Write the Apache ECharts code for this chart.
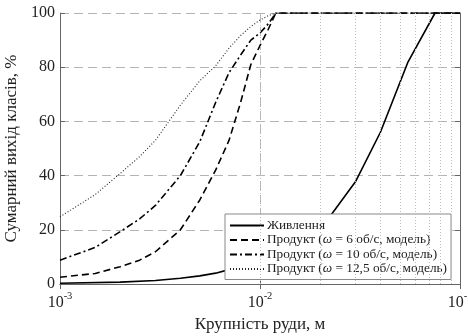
<!DOCTYPE html>
<html>
<head>
<meta charset="utf-8">
<script src="https://cdn.jsdelivr.net/npm/echarts@6/dist/echarts.min.js"></script>
<style>
html,body{margin:0;padding:0;background:#fff;}
#c{width:468px;height:336px;}
</style>
</head>
<body>
<div id="c"></div>
<script>
// ---- data ----
const feedX   = [0.001,0.002,0.003,0.004,0.005,0.006,0.007,0.01,0.015,0.02,0.03,0.04,0.055,0.075,0.1];
const feedY   = [0.3,0.7,1.3,2.1,3.0,4.0,5.3,9,14,20,37.7,56,82,100,100];

const prodX   = [0.001,0.0015,0.002,0.0025,0.003,0.004,0.005,0.006,0.007,0.008,0.009,0.010,0.011,0.012,0.1];
const prod6Y  = [2.5,3.9,6.4,8.8,11.9,20,31,42,53,67,81,88,94,100,100];
const prod10Y = [8.8,13.5,19.3,24,29,40,52.5,67,78,84.5,90,92.6,96,100,100];
const prod125Y= [24.8,33,40.8,47,53,66,75,80.5,87,91.7,95,97.4,99,100,100];

const seriesNames = [
  'Живлення',
  'Продукт (ω = 6 об/с, модель)',
  'Продукт (ω = 10 об/с, модель)',
  'Продукт (ω = 12,5 об/с, модель)'
];
const minorX = [0.002,0.003,0.004,0.005,0.006,0.007,0.008,0.009,
                0.02,0.03,0.04,0.05,0.06,0.07,0.08,0.09];
const xTickExp = {0.001:'-3', 0.01:'-2', 0.1:'-1'};
const yTicks = [0,20,40,60,80,100];

const pairs = (xs, ys) => xs.map((x,i)=>[x, ys[i]]);
const serif = '"Liberation Serif","Times New Roman",serif';

const chart = echarts.init(document.getElementById('c'), null, {renderer:'canvas'});
const gridDash = {type:[9,5], color:'#b4b4b4', width:1};

chart.setOption({
  animation:false,
  backgroundColor:'#fff',
  textStyle:{fontFamily:serif},
  grid:{left:60, right:8, top:13, bottom:52, containLabel:false, outerBoundsMode:'none'},
  xAxis:[{
    type:'log', logBase:10, min:0.001, max:0.1,
    name:'Крупність руди, м', nameLocation:'middle', nameGap:21,
    nameTextStyle:{fontFamily:serif, fontSize:17, color:'#222'},
    axisLine:{show:true, lineStyle:{color:'#666', width:1}},
    axisTick:{show:true, inside:true, length:5, lineStyle:{color:'#666'}},
    splitLine:{show:true, lineStyle:gridDash},
    axisLabel:{
      margin:7, color:'#222', fontFamily:serif, hideOverlap:false,
      formatter:(v)=>{
        const key = Object.keys(xTickExp).find(k=>Math.abs(+k - v) < v*1e-6);
        return key ? '{b|10}{s|' + xTickExp[key] + '}' : '';
      },
      rich:{
        b:{fontSize:16, fontFamily:serif, color:'#222', lineHeight:20, verticalAlign:'bottom'},
        s:{fontSize:10.5, fontFamily:serif, color:'#222', lineHeight:12, verticalAlign:'top'}
      }
    }
  },{
    type:'log', logBase:10, min:0.001, max:0.1, position:'top',
    axisLine:{show:true, lineStyle:{color:'#666', width:1}},
    axisTick:{show:true, inside:true, length:5, lineStyle:{color:'#666'}},
    axisLabel:{show:false}, splitLine:{show:false}
  }],
  yAxis:[{
    type:'value', min:0, max:100, interval:20,
    name:'Сумарний вихід класів, %', nameLocation:'middle', nameGap:29,
    nameTextStyle:{fontFamily:serif, fontSize:17, color:'#222'},
    axisLine:{show:true, lineStyle:{color:'#666', width:1}},
    axisTick:{show:true, inside:true, length:5, lineStyle:{color:'#666'}},
    splitLine:{show:true, lineStyle:gridDash},
    axisLabel:{margin:5, fontSize:16, color:'#222', fontFamily:serif,
      formatter:(v)=> yTicks.includes(v) ? String(v) : ''}
  },{
    type:'value', min:0, max:100, interval:20, position:'right',
    axisLine:{show:true, lineStyle:{color:'#666', width:1}},
    axisTick:{show:true, inside:true, length:5, lineStyle:{color:'#666'}},
    axisLabel:{show:false}, splitLine:{show:false}
  }],
  legend:{
    data:seriesNames,
    orient:'vertical', left:225, top:214,
    padding:[5,4,4,4],
    itemGap:1.5, itemWidth:34, itemHeight:12,
    backgroundColor:'#fff', borderColor:'#888', borderWidth:1,
    itemStyle:{opacity:0},
    textStyle:{fontFamily:serif, fontSize:13.3, color:'#222', padding:[0,0,0,-2],
      rich:{w:{fontFamily:serif, fontSize:13.3, fontStyle:'italic', color:'#222'}}},
    formatter:(n)=> n.replace('ω','{w|ω}')
  },
  series:[
    {
      name:'minor', type:'line', data:[], z:1, silent:true,
      markLine:{
        silent:true, symbol:['none','none'], animation:false,
        label:{show:false},
        lineStyle:{type:[1,2], color:'#bdbdbd', width:1},
        data:minorX.map(v=>({xAxis:v}))
      }
    },
    {
      name:seriesNames[0], type:'line', data:pairs(feedX, feedY),
      symbol:'none', z:3,
      lineStyle:{color:'#000', width:1.6, type:'solid'},
      itemStyle:{color:'#000'}
    },
    {
      name:seriesNames[1], type:'line', data:pairs(prodX, prod6Y),
      symbol:'none', z:3,
      lineStyle:{color:'#000', width:1.6, type:[7,4]},
      itemStyle:{color:'#000'}
    },
    {
      name:seriesNames[2], type:'line', data:pairs(prodX, prod10Y),
      symbol:'none', z:3,
      lineStyle:{color:'#000', width:1.6, type:[7,3,2,3]},
      itemStyle:{color:'#000'}
    },
    {
      name:seriesNames[3], type:'line', data:pairs(prodX, prod125Y),
      symbol:'none', z:3,
      lineStyle:{color:'#222', width:1.1, type:[1,2]},
      itemStyle:{color:'#222'}
    }
  ]
});
</script>
</body>
</html>
